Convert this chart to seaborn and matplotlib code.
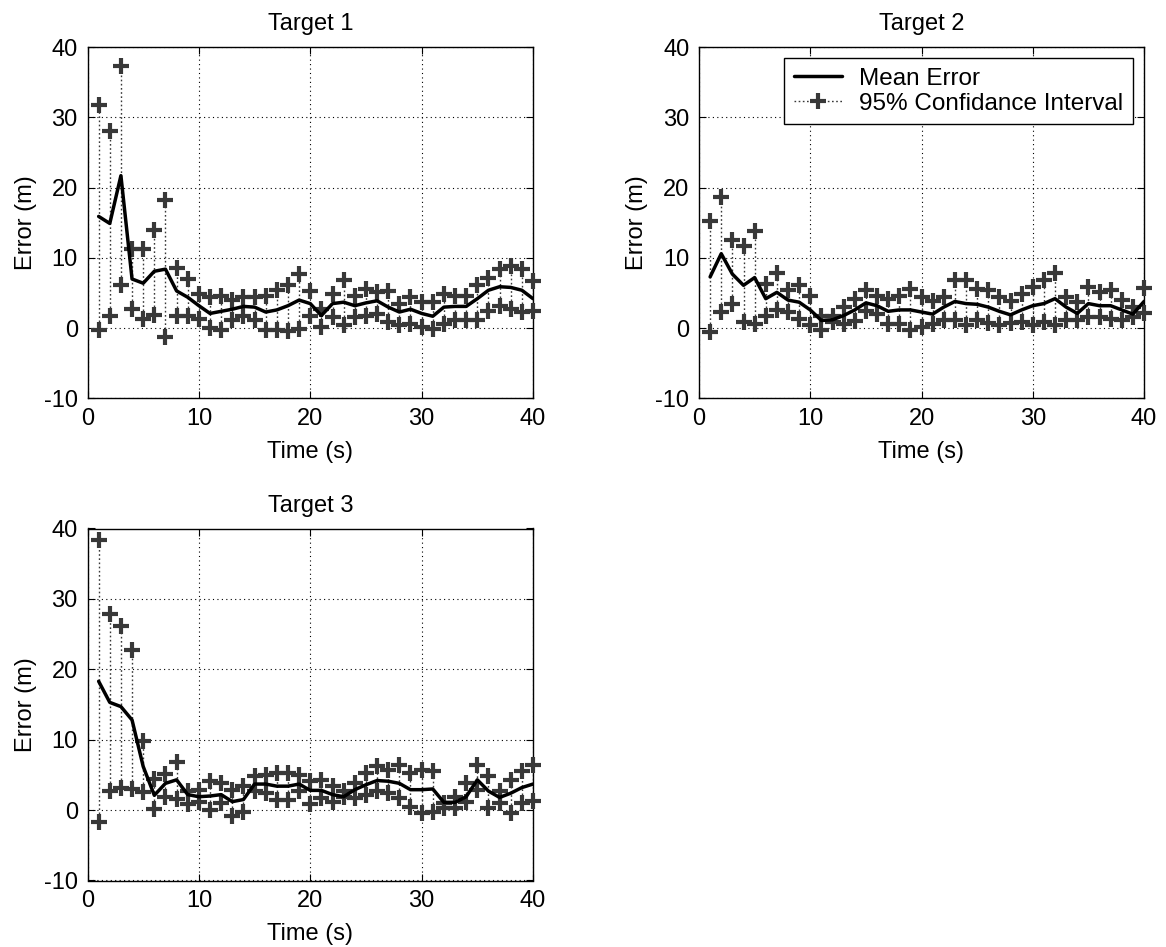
import numpy as np
import pandas as pd
import matplotlib
matplotlib.use("Agg")
import matplotlib.pyplot as plt
from matplotlib.lines import Line2D
import seaborn as sns

time_s = list(range(1, 41))

mean1 = [15.9, 14.9, 21.7, 7.0, 6.4, 8.1, 8.4, 5.3, 4.4, 3.2, 2.1, 2.4, 2.7, 3.1, 3.0, 2.3, 2.6, 3.2, 4.0, 3.5,
         1.8, 3.5, 3.7, 3.2, 3.6, 3.9, 3.0, 2.3, 2.7, 2.1, 1.7, 3.0, 3.1, 3.1, 4.2, 5.4, 5.9, 5.8, 5.4, 4.2]
upper1 = [31.7, 28.1, 37.3, 11.3, 11.3, 14.0, 18.2, 8.5, 7.0, 4.8, 4.4, 4.6, 4.0, 4.4, 4.5, 4.6, 5.4, 6.2, 7.7, 5.3,
          2.7, 4.9, 6.8, 4.6, 5.6, 5.1, 5.3, 3.5, 4.4, 3.7, 3.7, 4.9, 4.6, 4.6, 6.1, 7.2, 8.4, 8.9, 8.4, 6.7]
lower1 = [-0.2, 1.7, 6.1, 2.7, 1.3, 1.9, -1.3, 1.8, 1.8, 1.3, 0.0, -0.2, 1.2, 1.8, 1.1, -0.3, -0.3, -0.4, -0.1, 1.7,
          0.1, 1.6, 0.4, 1.6, 1.8, 2.0, 0.9, 0.4, 0.6, 0.1, -0.1, 0.6, 1.1, 1.1, 1.2, 2.4, 3.2, 2.7, 2.3, 2.4]

mean2 = [7.3, 10.6, 7.7, 6.1, 7.2, 4.2, 5.1, 4.0, 3.7, 2.6, 1.1, 1.2, 1.8, 2.6, 3.6, 3.2, 2.4, 2.6, 2.6, 2.3,
         2.0, 3.0, 3.8, 3.5, 3.4, 3.0, 2.4, 1.9, 2.6, 3.2, 3.5, 4.2, 3.0, 2.1, 3.5, 3.2, 3.2, 2.6, 2.0, 3.8]
upper2 = [15.3, 18.6, 12.5, 11.7, 13.8, 6.3, 7.8, 5.5, 6.2, 4.6, 1.8, 1.7, 3.0, 4.2, 5.4, 4.6, 4.2, 4.6, 5.6, 4.4,
          3.9, 4.5, 6.8, 6.8, 5.6, 5.4, 4.4, 3.9, 4.9, 5.8, 6.8, 7.8, 4.4, 3.7, 5.8, 5.1, 5.5, 4.0, 3.0, 5.7]
lower2 = [-0.6, 2.3, 3.5, 0.9, 0.6, 1.8, 2.6, 2.3, 1.3, 0.5, -0.3, 0.9, 0.6, 1.0, 2.5, 2.0, 0.6, 0.6, -0.3, 0.1,
          0.6, 1.1, 1.1, 0.5, 1.1, 0.7, 0.5, 0.7, 0.9, 0.5, 0.9, 0.5, 1.1, 1.1, 1.6, 1.6, 1.3, 1.1, 1.6, 2.2]

mean3 = [18.3, 15.3, 14.7, 12.8, 6.2, 2.1, 3.8, 4.3, 2.2, 1.9, 2.0, 2.2, 1.2, 1.5, 3.7, 3.7, 3.4, 3.4, 3.7, 2.8,
         2.8, 2.2, 1.9, 2.9, 3.6, 4.2, 4.1, 3.8, 2.9, 2.9, 3.0, 1.1, 1.1, 1.9, 4.3, 2.7, 1.8, 2.4, 3.2, 3.7]
upper3 = [38.4, 27.9, 26.2, 22.8, 9.8, 4.4, 5.1, 6.8, 2.7, 2.9, 4.1, 3.8, 2.9, 3.4, 4.8, 5.0, 5.3, 5.3, 5.0, 4.1,
          4.3, 3.4, 2.7, 3.8, 5.3, 6.2, 5.7, 6.4, 5.3, 5.7, 5.5, 1.0, 1.9, 3.8, 6.4, 4.8, 2.7, 4.3, 5.5, 6.4]
lower3 = [-1.7, 2.7, 3.2, 3.0, 2.6, 0.1, 1.9, 1.6, 0.8, 1.2, 0.0, 1.0, -0.9, -0.2, 2.7, 2.4, 1.5, 1.5, 2.7, 0.8,
          1.7, 1.2, 1.9, 1.7, 2.2, 2.7, 2.4, 1.7, 0.5, -0.4, -0.2, 0.3, 0.3, 1.2, 2.9, 0.3, 1.0, -0.4, 1.0, 1.3]

titles = ["Target 1", "Target 2", "Target 3"]
x_ticks = [0, 10, 20, 30, 40]
y_ticks = [-10, 0, 10, 20, 30, 40]
legend_labels = ["Mean Error", "95% Confidance Interval"]

sns.set_theme(style="ticks")
plt.rcParams["font.family"] = ["Liberation Sans", "DejaVu Sans"]
plt.rcParams["font.size"] = 17
plt.rcParams["axes.unicode_minus"] = False
plt.rcParams["text.color"] = "black"
plt.rcParams["axes.labelcolor"] = "black"
plt.rcParams["axes.titlecolor"] = "black"

FS = 17
LFS = 17.5
MARK = "#383838"
DOT = (0, (1.2, 1.8))
W, H = 1166, 947
fig = plt.figure(figsize=(W / 100, H / 100), dpi=100, facecolor="white")

rects = [
    (87.5, 47, 533, 398.5),
    (699, 47, 1144, 398.5),
    (87.5, 528.5, 533, 880.5),
]

series = [(mean1, upper1, lower1), (mean2, upper2, lower2), (mean3, upper3, lower3)]

for i, ((l, t, r, b), (m, up, lo)) in enumerate(zip(rects, series)):
    ax = fig.add_axes([l / W, 1 - b / H, (r - l) / W, (b - t) / H])
    df = pd.DataFrame({"t": time_s, "mean": m, "upper": up, "lower": lo})
    ax.vlines(df["t"], df["lower"], df["upper"], colors=MARK, linestyles=DOT,
              linewidth=1.0, zorder=2)
    for col in ["upper", "lower"]:
        sns.lineplot(data=df, x="t", y=col, ax=ax, marker="+", linestyle="", color=MARK,
                     markersize=11, markeredgewidth=3.0, markeredgecolor=MARK,
                     zorder=3, clip_on=False)
    sns.lineplot(data=df, x="t", y="mean", ax=ax, color="black", linewidth=2.5, zorder=4)
    ax.set_xlim(0, 40)
    ax.set_ylim(-10, 40)
    ax.set_xticks(x_ticks)
    ax.set_yticks(y_ticks)
    ax.grid(True, linestyle=(0, (1, 3)), color="black", linewidth=0.8)
    ax.tick_params(direction="in", top=True, right=True, length=5, width=0.8,
                   labelsize=FS, pad=7, colors="black")
    for s in ax.spines.values():
        s.set_color("black")
        s.set_linewidth(1.0)
    ax.set_title(titles[i], fontsize=FS, pad=12, color="black")
    ax.set_xlabel("Time (s)", fontsize=FS, labelpad=8, color="black")
    ax.set_ylabel("Error (m)", fontsize=FS, labelpad=5, color="black")
    if i == 1:
        handles = [
            Line2D([], [], color="black", linewidth=2.5),
            Line2D([], [], color=MARK, linestyle=DOT, linewidth=1.0, marker="+",
                   markersize=11, markeredgewidth=3.0, markeredgecolor=MARK),
        ]
        leg = ax.legend(handles, legend_labels, loc="upper right", fontsize=LFS, frameon=True,
                        fancybox=False, edgecolor="black", framealpha=1, borderaxespad=0.45,
                        labelspacing=0.12, handlelength=2.0, handletextpad=0.7, borderpad=0.4)
        leg.get_frame().set_linewidth(1.0)
        for txt in leg.get_texts():
            txt.set_color("black")
    else:
        if ax.get_legend() is not None:
            ax.get_legend().remove()

fig.savefig("out.png", dpi=100, facecolor="white")
